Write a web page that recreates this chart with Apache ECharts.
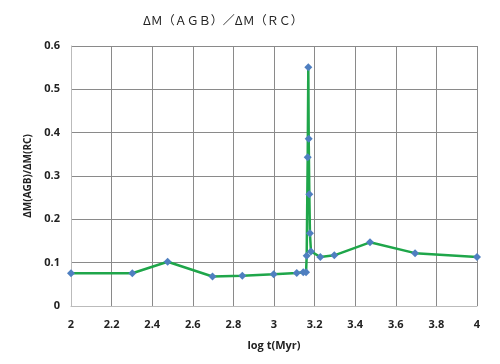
<!DOCTYPE html>
<html>
<head>
<meta charset="utf-8">
<script src="https://cdn.jsdelivr.net/npm/echarts@6/dist/echarts.min.js"></script>
<style>html,body{margin:0;padding:0;background:#fff}#c{width:500px;height:364px}</style>
</head>
<body>
<div id="c"></div>
<script>
var logT = [2.0, 2.302, 2.476, 2.697, 2.844, 2.998, 3.112, 3.144, 3.158, 3.161, 3.166, 3.169, 3.171, 3.174, 3.177, 3.182, 3.228, 3.297, 3.473, 3.695, 4.0];
var ratio = [0.0755, 0.0755, 0.102, 0.068, 0.070, 0.073, 0.076, 0.078, 0.078, 0.116, 0.343, 0.551, 0.386, 0.258, 0.168, 0.126, 0.113, 0.117, 0.147, 0.122, 0.113];
var xTicks = ['2','2.2','2.4','2.6','2.8','3','3.2','3.4','3.6','3.8','4'];
var yTicks = ['0','0.1','0.2','0.3','0.4','0.5','0.6'];

var data = logT.map(function(x, i){ return [x, ratio[i]]; });
var chart = echarts.init(document.getElementById('c'), null, {renderer:'canvas'});
chart.setOption({
  animation: false,
  title: {
    text: 'ΔＭ（ＡＧＢ）／ΔＭ（ＲＣ）',
    left: 138, top: 9,
    textStyle: {fontFamily: 'Noto Sans CJK JP', fontSize: 12, fontWeight: 'normal', color: '#222'}
  },
  grid: {left: 71, right: 23, top: 46, bottom: 58, containLabel: false},
  xAxis: {
    type: 'value', min: 2, max: 4, interval: 0.2,
    name: 'log t(Myr)', nameLocation: 'middle', nameGap: 34,
    nameTextStyle: {fontFamily: 'Open Sans', fontSize: 11, fontWeight: 'bold', color: '#222'},
    axisLine: {show: true, lineStyle: {color: '#bbb', width: 1}},
    axisTick: {show: false},
    axisLabel: {
      margin: 13, fontFamily: 'Open Sans', fontSize: 11, fontWeight: 'bold', color: '#222',
      formatter: function(v){ var i = Math.round((v - 2) / 0.2); return xTicks[i] || ''; }
    },
    splitLine: {show: true, lineStyle: {color: '#8a8a8a', width: 1}}
  },
  yAxis: {
    type: 'value', min: 0, max: 0.6, interval: 0.1,
    name: 'ΔM(AGB)/ΔM(RC)', nameLocation: 'middle', nameGap: 34, nameRotate: 90,
    nameTextStyle: {fontFamily: 'Open Sans', fontSize: 10, fontWeight: 'bold', color: '#222'},
    axisLine: {show: true, lineStyle: {color: '#bbb', width: 1}},
    axisTick: {show: false},
    axisLabel: {
      margin: 11, fontFamily: 'Open Sans', fontSize: 11, fontWeight: 'bold', color: '#222',
      formatter: function(v){ var i = Math.round(v / 0.1); return yTicks[i] || ''; }
    },
    splitLine: {show: true, lineStyle: {color: '#8a8a8a', width: 1}}
  },
  series: [{
    type: 'line',
    data: data,
    symbol: 'diamond',
    symbolSize: 8,
    lineStyle: {color: '#1fa64a', width: 2.5},
    itemStyle: {color: '#4f7fc0'},
    z: 3
  }]
});
</script>
</body>
</html>
